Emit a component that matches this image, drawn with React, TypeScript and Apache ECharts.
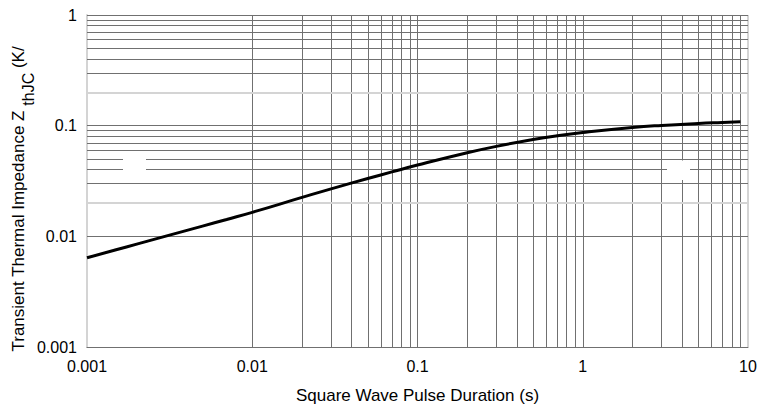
import React, { useEffect, useRef } from "react";
import * as echarts from "echarts";

// Curve: pulse duration (s) vs transient thermal impedance (K/W)
const pulseDuration = [0.001, 0.0015, 0.002, 0.003, 0.005, 0.007, 0.01, 0.02, 0.03, 0.05, 0.07, 0.1, 0.2, 0.3, 0.5, 0.7, 1, 2, 3, 5, 7, 9];
const impedance = [0.0064, 0.00756, 0.0085, 0.01004, 0.01238, 0.01421, 0.01648, 0.02247, 0.02686, 0.03328, 0.03821, 0.04406, 0.0569, 0.065, 0.075, 0.0811, 0.0867, 0.0962, 0.1005, 0.1047, 0.1069, 0.1085];

const xTickLabels = ["0.001", "0.01", "0.1", "1", "10"];
const yTickLabels = ["0.001", "0.01", "0.1", "1"];
const xDecades = [0.001, 0.01, 0.1, 1];
const yDecades = [0.001, 0.01, 0.1];
const multipliers = [1, 2, 3, 4, 5, 6, 7, 8, 9];

const DARK = "#707070";
const LIGHT = "#d4d4d4";
const FONT = "Liberation Sans, Arial, sans-serif";

const fmt = (v: number) => Number(v.toPrecision(6)).toString();

export default function App() {
  const ref = useRef<HTMLDivElement>(null);
  useEffect(() => {
    if (!ref.current) return;
    const chart = echarts.init(ref.current, undefined, { renderer: "svg" });
    const curve = pulseDuration.map((x, i) => [x, impedance[i]]);

    const gridLines: any[] = [];
    xDecades.forEach((d) =>
      multipliers.forEach((m) => {
        if (m === 1 && d === 0.001) return;
        gridLines.push({ xAxis: Number(fmt(d * m)), lineStyle: { color: DARK, width: 1, type: "solid" } });
      })
    );
    gridLines.push({ xAxis: 10, lineStyle: { color: LIGHT, width: 2, type: "solid" } });
    yDecades.forEach((d) =>
      multipliers.forEach((m) => {
        if (m === 1 && d === 0.001) return;
        const light = m === 2;
        gridLines.push({ yAxis: Number(fmt(d * m)), lineStyle: { color: light ? LIGHT : DARK, width: light ? 2 : 1, type: "solid" } });
      })
    );
    gridLines.push({ yAxis: 1, lineStyle: { color: DARK, width: 1, type: "solid" } });

    chart.setOption({
      animation: false,
      textStyle: { fontFamily: FONT },
      grid: { left: 87, right: 9, top: 15, bottom: 63, containLabel: false, outerBoundsMode: "none" },
      xAxis: {
        type: "log",
        logBase: 10,
        min: 0.001,
        max: 10,
        name: "Square Wave Pulse Duration (s)",
        nameLocation: "middle",
        nameGap: 40,
        nameMoveOverlap: false,
        nameTextStyle: { fontSize: 17, color: "#000", fontFamily: FONT },
        axisLine: { show: true, lineStyle: { color: DARK, width: 1 } },
        axisTick: { show: false },
        splitLine: { show: false },
        axisLabel: {
          fontSize: 16,
          color: "#000",
          margin: 11,
          fontFamily: FONT,
          formatter: (v: number) => {
            const s = fmt(v);
            return xTickLabels.includes(s) ? s : "";
          },
        },
      },
      yAxis: {
        type: "log",
        logBase: 10,
        min: 0.001,
        max: 1,
        name: "{a|Transient Thermal Impedance Z }{b|thJC}{a| (K/}",
        nameLocation: "middle",
        nameGap: 60,
        nameMoveOverlap: false,
        nameRotate: 90,
        nameTextStyle: {
          color: "#000",
          fontFamily: FONT,
          padding: [0, 36, 0, 0],
          rich: {
            a: { fontSize: 17, lineHeight: 17, verticalAlign: "top", color: "#000", fontFamily: FONT },
            b: { fontSize: 16, lineHeight: 16, verticalAlign: "top", padding: [10, 0, 0, 0], color: "#000", fontFamily: FONT },
          },
        },
        axisLine: { show: true, lineStyle: { color: LIGHT, width: 2 } },
        axisTick: { show: false },
        splitLine: { show: false },
        axisLabel: {
          fontSize: 16,
          color: "#000",
          margin: 10,
          fontFamily: FONT,
          formatter: (v: number) => {
            const s = fmt(v);
            return yTickLabels.includes(s) ? s : "";
          },
        },
      },
      graphic: [
        { type: "rect", z: 100, shape: { x: 123, y: 157, width: 23, height: 23 }, style: { fill: "#fff" } },
        { type: "rect", z: 100, shape: { x: 667, y: 160.5, width: 23, height: 19.5 }, style: { fill: "#fff" } },
      ],
      series: [
        {
          type: "line",
          data: curve,
          z: 1,
          showSymbol: false,
          silent: true,
          lineStyle: { opacity: 0 },
          markLine: {
            silent: true,
            symbol: ["none", "none"],
            label: { show: false },
            emphasis: { disabled: true },
            animation: false,
            data: gridLines,
          },
        },
        {
          type: "line",
          data: curve,
          z: 5,
          smooth: true,
          showSymbol: false,
          silent: true,
          lineStyle: { color: "#000", width: 3 },
        },
      ],
    });
    return () => chart.dispose();
  }, []);
  return <div ref={ref} style={{ position: "absolute", left: 0, top: 0, width: 757, height: 410 }} />;
}
